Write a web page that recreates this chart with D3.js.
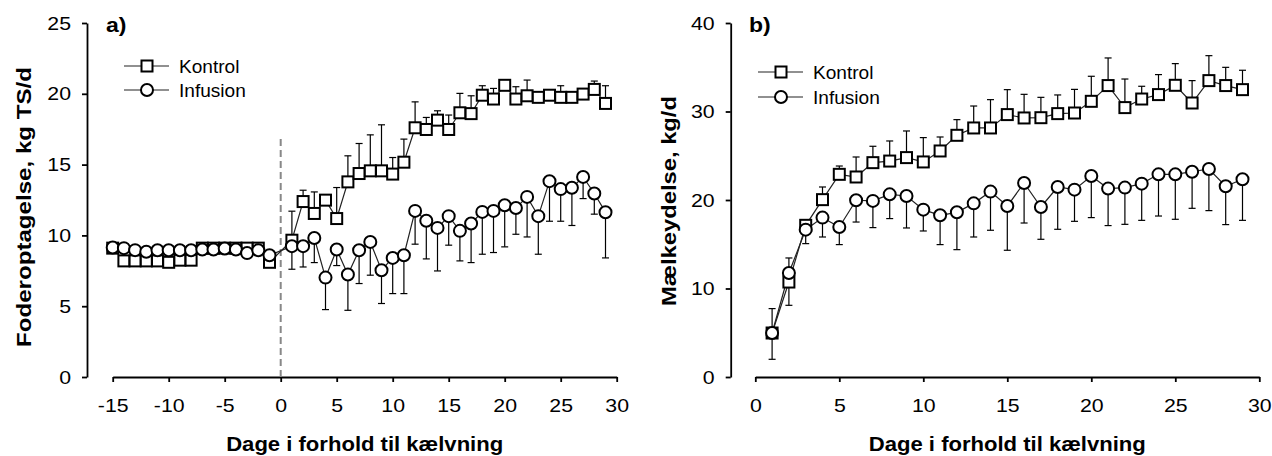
<!DOCTYPE html>
<html>
<head>
<meta charset="utf-8">
<script src="https://cdn.jsdelivr.net/npm/d3@7"></script>
<style>
  body { margin: 0; background: #fff; }
  text { font-family: "Liberation Sans", Arial, sans-serif; fill: #000; }
  .axis path, .axis line { stroke: #000; stroke-width: 1.8; }
  .axis text { font-size: 19px; }
</style>
</head>
<body>
<div id="svg-container-1"></div>
<script>
var w = 1272;
var h = 456;

// panel a) feed intake, days -15..-1 and 1..29
var daysA = [-15, -14, -13, -12, -11, -10, -9, -8, -7, -6, -5, -4, -3, -2, -1,
    1, 2, 3, 4, 5, 6, 7, 8, 9, 10, 11, 12, 13, 14, 15, 16, 17, 18, 19, 20,
    21, 22, 23, 24, 25, 26, 27, 28, 29];
var kontrolA = [9.1, 8.2, 8.2, 8.2, 8.2, 8.1, 8.25, 8.25, 9.1, 9.1, 9.1, 9.1, 9.1, 9.1, 8.1,
    9.66, 12.39, 11.55, 12.49, 11.19, 13.78, 14.37, 14.56, 14.56, 14.33, 15.17, 17.6, 17.48, 18.14,
    17.48, 18.66, 18.6, 19.9, 19.63, 20.6, 19.63, 19.86, 19.75, 19.9, 19.75, 19.75, 19.98, 20.31, 19.32];
var kontrolASe = [0, 0, 0, 0, 0, 0, 0, 0, 0, 0, 0, 0, 0, 0, 0,
    2.05, 0.8, 1.52, 0, 2.19, 1.84, 2.12, 2.54, 3.25, 1.17, 1.63, 1.83, 0.85, 0.66,
    1.02, 1.37, 1.26, 0.67, 0.75, 0, 0.87, 1.11, 0, 0, 0.82, 0, 0, 0.59, 1.25];
var infusionA = [9.14, 9.1, 8.96, 8.85, 8.95, 8.95, 8.95, 8.95, 9.0, 9.0, 9.07, 9.0, 8.75, 8.95, 8.6,
    9.24, 9.24, 9.82, 7.02, 9.0, 7.24, 8.95, 9.54, 7.54, 8.41, 8.6, 11.73, 11.03, 10.53,
    11.36, 10.32, 10.84, 11.66, 11.73, 12.13, 11.94, 12.72, 11.36, 13.83, 13.27, 13.36, 14.13, 12.96, 11.64];
var infusionASe = [0, 0, 0, 0, 0, 0, 0, 0, 0, 0, 0, 0, 0, 0, 0,
    1.63, 1.47, 1.74, 2.26, 1.13, 2.53, 2.35, 2.35, 2.35, 2.52, 2.71, 2.35, 2.69, 3.04,
    2.05, 2.12, 2.76, 2.99, 2.94, 2.94, 1.86, 2.83, 2.69, 2.83, 2.27, 2.66, 1.53, 1.46, 3.23];

// panel b) milk yield, days 1..29
var daysB = [1, 2, 3, 4, 5, 6, 7, 8, 9, 10, 11, 12, 13, 14, 15, 16, 17, 18, 19, 20,
    21, 22, 23, 24, 25, 26, 27, 28, 29];
var kontrolB = [4.97, 10.73, 17.14, 20.04, 22.9, 22.6, 24.22, 24.4, 24.79, 24.3, 25.54, 27.31, 28.14, 28.14,
    29.65, 29.27, 29.3, 29.76, 29.83, 31.15, 32.93, 30.44, 31.41, 31.91, 32.96, 30.96, 33.49, 32.93, 32.47];
var kontrolBSe = [2.76, 2.72, 0.3, 1.43, 0.94, 2.26, 1.85, 2.27, 3.01, 2.75, 1.58, 1.77, 2.48, 3.2,
    2.82, 2.67, 2.3, 2.11, 2.67, 2.83, 3.12, 3.23, 1.44, 2.26, 2.45, 2.53, 2.82, 2.06, 2.19];
var infusionB = [4.97, 11.75, 16.65, 18.01, 16.95, 19.97, 19.9, 20.64, 20.45, 18.91, 18.27, 18.61, 19.62, 20.95,
    19.32, 21.92, 19.21, 21.47, 21.17, 22.71, 21.29, 21.4, 21.85, 22.9, 22.9, 23.2, 23.5, 21.55, 22.34];
var infusionBSe = [2.97, 3.65, 1.58, 2.19, 1.99, 2.46, 3.02, 2.74, 3.61, 2.41, 3.31, 4.22, 3.8, 4.37,
    5.0, 4.52, 3.65, 4.78, 3.58, 4.7, 4.18, 4.15, 4.15, 4.71, 5.08, 4.14, 4.7, 4.33, 4.64];

var seriesNames = ["Kontrol", "Infusion"];
var xTitle = "Dage i forhold til kælvning";

var svg = d3.select("#svg-container-1")
    .append("svg")
    .attr("width", w)
    .attr("height", h);

//zip day + value + se into point objects
function makePoints(days, vals, se) {
    return days.map(function (d, i) {
        return {day: d, v: vals[i], se: se[i]};
    });
}

//the original text is a bit wider than Liberation Sans, stretch it
function widen(sel, k) {
    sel.each(function () {
        var len = this.getComputedTextLength();
        d3.select(this).attr("textLength", len * k).attr("lengthAdjust", "spacingAndGlyphs");
    });
}

function drawPanel(opt) {
    var x = d3.scaleLinear().domain(opt.xDomain).range(opt.xRange);
    var y = d3.scaleLinear().domain(opt.yDomain).range([377, 23]);
    var g = svg.append("g");
    var plain = function (d) { return String(d); }; // keep hyphen minus like the original

    var yAx = g.append("g").attr("class", "axis")
        .attr("transform", "translate(" + opt.yAxisX + ",0)")
        .call(d3.axisLeft(y).tickValues(opt.yTicks).tickFormat(plain)
            .tickSize(5).tickSizeOuter(0).tickPadding(11));

    var xAx = g.append("g").attr("class", "axis")
        .attr("transform", "translate(0,377)")
        .call(d3.axisBottom(x).tickValues(opt.xTicks).tickFormat(plain)
            .tickSize(5).tickSizeOuter(0).tickPadding(17));

    widen(yAx.selectAll("text"), 1.12);
    widen(xAx.selectAll("text"), 1.12);

    //calving day marker
    if (opt.dashed) {
        g.append("line")
            .attr("x1", x(0)).attr("x2", x(0))
            .attr("y1", y(16.8)).attr("y2", y(0))
            .attr("stroke", "#888")
            .attr("stroke-width", 2)
            .attr("stroke-dasharray", "7,4");
    }

    var line = d3.line()
        .x(function (d) { return x(d.day); })
        .y(function (d) { return y(d.v); });

    opt.series.forEach(function (s) {
        // error bars: Kontrol up, Infusion down
        var bars = s.pts.filter(function (d) { return d.se > 0; });
        var eg = g.append("g").attr("stroke", "#000").attr("stroke-width", 1.2);
        bars.forEach(function (d) {
            var y2 = y(d.v + s.dir * d.se);
            eg.append("line").attr("x1", x(d.day)).attr("x2", x(d.day))
                .attr("y1", y(d.v)).attr("y2", y2);
            eg.append("line").attr("x1", x(d.day) - 3.5).attr("x2", x(d.day) + 3.5)
                .attr("y1", y2).attr("y2", y2);
        });

        g.append("path")
            .datum(s.pts)
            .attr("fill", "none")
            .attr("stroke", "#222")
            .attr("stroke-width", 1.2)
            .attr("d", line);
    });

    opt.series.forEach(function (s) {
        var mg = g.append("g");
        if (s.shape == "square") {
            mg.selectAll("rect").data(s.pts).enter().append("rect")
                .attr("x", function (d) { return x(d.day) - 5.5; })
                .attr("y", function (d) { return y(d.v) - 5.5; })
                .attr("width", 11).attr("height", 11)
                .attr("fill", "#fff").attr("stroke", "#000").attr("stroke-width", 2);
        } else {
            mg.selectAll("circle").data(s.pts).enter().append("circle")
                .attr("cx", function (d) { return x(d.day); })
                .attr("cy", function (d) { return y(d.v); })
                .attr("r", 6)
                .attr("fill", "#fff").attr("stroke", "#000").attr("stroke-width", 2);
        }
    });

    //legend
    opt.series.forEach(function (s, i) {
        var ly = opt.legendY + i * opt.legendGap;
        var lx = opt.legendX;
        g.append("line").attr("x1", lx - 23).attr("x2", lx + 22)
            .attr("y1", ly).attr("y2", ly)
            .attr("stroke", "#222").attr("stroke-width", 1.2);
        if (s.shape == "square") {
            g.append("rect").attr("x", lx - 5.5).attr("y", ly - 5.5)
                .attr("width", 11).attr("height", 11)
                .attr("fill", "#fff").attr("stroke", "#000").attr("stroke-width", 2);
        } else {
            g.append("circle").attr("cx", lx).attr("cy", ly).attr("r", 6)
                .attr("fill", "#fff").attr("stroke", "#000").attr("stroke-width", 2);
        }
        var t = g.append("text").attr("x", lx + 32).attr("y", ly + 6.5)
            .style("font-size", "18.5px")
            .text(seriesNames[i]);
        widen(t, 1.03);
    });

    var lab = g.append("text").attr("x", opt.labelX).attr("y", 32)
        .style("font-size", "20px").style("font-weight", "bold")
        .text(opt.label);
    widen(lab, 1.15);

    g.append("text")
        .attr("text-anchor", "middle")
        .attr("x", (opt.xRange[0] + opt.xRange[1]) / 2)
        .attr("y", 451)
        .attr("textLength", 277).attr("lengthAdjust", "spacingAndGlyphs")
        .style("font-size", "20px").style("font-weight", "bold")
        .text(xTitle);

    g.append("text")
        .attr("text-anchor", "middle")
        .attr("transform", "translate(" + opt.yTitleX + "," + opt.yTitleY + ") rotate(-90)")
        .attr("textLength", opt.yTitleLen).attr("lengthAdjust", "spacingAndGlyphs")
        .style("font-size", "20px").style("font-weight", "bold")
        .text(opt.yTitle);
}

drawPanel({
    xDomain: [-15, 30], xRange: [112.7, 616.7],
    yDomain: [0, 25], yAxisX: 87,
    xTicks: d3.range(-15, 31, 5), yTicks: d3.range(0, 26, 5),
    dashed: true,
    series: [
        {pts: makePoints(daysA, kontrolA, kontrolASe), shape: "square", dir: 1},
        {pts: makePoints(daysA, infusionA, infusionASe), shape: "circle", dir: -1}
    ],
    legendX: 147, legendY: 66, legendGap: 24,
    label: "a)", labelX: 106,
    yTitle: "Foderoptagelse, kg TS/d", yTitleX: 31, yTitleY: 207, yTitleLen: 280
});

drawPanel({
    xDomain: [0, 30], xRange: [755.3, 1259.3],
    yDomain: [0, 40], yAxisX: 730.7,
    xTicks: d3.range(0, 31, 5), yTicks: d3.range(0, 41, 10),
    dashed: false,
    series: [
        {pts: makePoints(daysB, kontrolB, kontrolBSe), shape: "square", dir: 1},
        {pts: makePoints(daysB, infusionB, infusionBSe), shape: "circle", dir: -1}
    ],
    legendX: 781, legendY: 72, legendGap: 25,
    label: "b)", labelX: 749,
    yTitle: "Mælkeydelse, kg/d", yTitleX: 676, yTitleY: 201, yTitleLen: 210
});
</script>
</body>
</html>
